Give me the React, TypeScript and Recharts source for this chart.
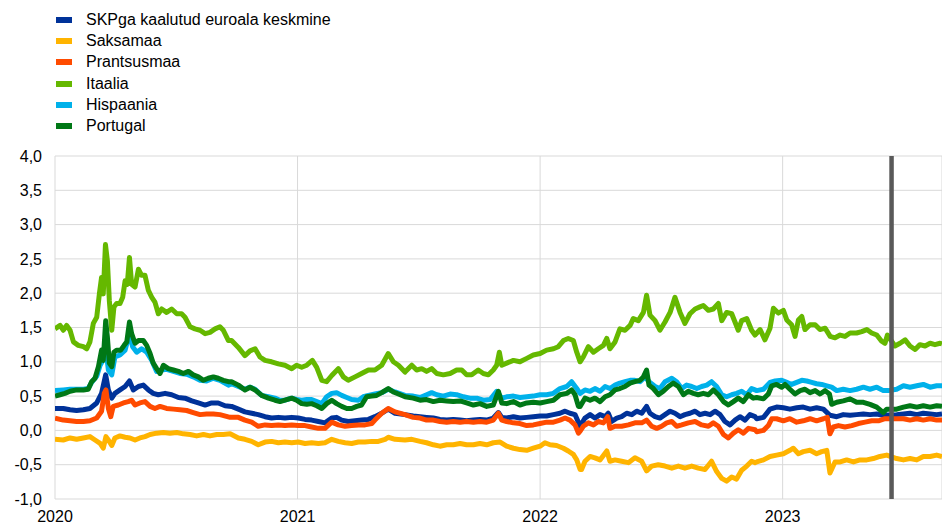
import { LineChart, Line, XAxis, YAxis, CartesianGrid, ReferenceLine } from 'recharts';

// legend labels, in drawing order
const seriesNames = [
  'SKPga kaalutud euroala keskmine',
  'Saksamaa',
  'Prantsusmaa',
  'Itaalia',
  'Hispaania',
  'Portugal',
];
const seriesColors = ['#003299', '#ffb400', '#ff4b00', '#65b800', '#00b1ea', '#007816'];

const yearTicks = [2020, 2021, 2022, 2023];
const valueTicks = [-1, -0.5, 0, 0.5, 1, 1.5, 2, 2.5, 3, 3.5, 4];
const firstDate = 2020;
const lastDate = 2023.657;
const cutoffDate = 2023.449;

// [date as fractional year, spread in percentage points]
const euroArea: [number, number][] = [
  [2020.0, 0.32], [2020.034, 0.32], [2020.062, 0.3], [2020.089, 0.29], [2020.117, 0.3], [2020.144, 0.32],
  [2020.172, 0.4], [2020.192, 0.54], [2020.209, 0.81], [2020.22, 0.59], [2020.234, 0.47], [2020.247, 0.54],
  [2020.268, 0.59], [2020.289, 0.64], [2020.307, 0.72], [2020.323, 0.59], [2020.344, 0.64], [2020.364, 0.66],
  [2020.385, 0.59], [2020.405, 0.54], [2020.426, 0.52], [2020.454, 0.54], [2020.481, 0.52], [2020.509, 0.48],
  [2020.536, 0.47], [2020.564, 0.43], [2020.591, 0.4], [2020.619, 0.37], [2020.646, 0.4], [2020.673, 0.4],
  [2020.701, 0.36], [2020.728, 0.35], [2020.756, 0.31], [2020.783, 0.27], [2020.811, 0.25], [2020.838, 0.23],
  [2020.866, 0.2], [2020.893, 0.18], [2020.921, 0.19], [2020.948, 0.18], [2020.976, 0.19], [2021.003, 0.18],
  [2021.031, 0.16], [2021.058, 0.15], [2021.086, 0.13], [2021.113, 0.11], [2021.141, 0.18], [2021.161, 0.19],
  [2021.182, 0.15], [2021.209, 0.13], [2021.237, 0.14], [2021.264, 0.15], [2021.292, 0.16], [2021.319, 0.2],
  [2021.347, 0.25], [2021.374, 0.31], [2021.402, 0.25], [2021.443, 0.23], [2021.477, 0.21], [2021.505, 0.2],
  [2021.532, 0.19], [2021.56, 0.18], [2021.587, 0.16], [2021.615, 0.15], [2021.642, 0.16], [2021.67, 0.15],
  [2021.697, 0.14], [2021.725, 0.15], [2021.752, 0.16], [2021.78, 0.15], [2021.807, 0.18], [2021.828, 0.26],
  [2021.842, 0.19], [2021.862, 0.18], [2021.89, 0.2], [2021.917, 0.18], [2021.945, 0.19], [2021.972, 0.2],
  [2022.0, 0.21], [2022.027, 0.21], [2022.055, 0.23], [2022.082, 0.25], [2022.103, 0.28], [2022.123, 0.25],
  [2022.144, 0.23], [2022.165, 0.06], [2022.185, 0.18], [2022.206, 0.23], [2022.226, 0.18], [2022.247, 0.23],
  [2022.268, 0.2], [2022.281, 0.25], [2022.295, 0.13], [2022.316, 0.18], [2022.336, 0.2], [2022.357, 0.25],
  [2022.378, 0.23], [2022.398, 0.28], [2022.419, 0.25], [2022.439, 0.35], [2022.453, 0.25], [2022.474, 0.2],
  [2022.494, 0.18], [2022.515, 0.23], [2022.536, 0.28], [2022.556, 0.25], [2022.577, 0.2], [2022.597, 0.23],
  [2022.618, 0.25], [2022.639, 0.28], [2022.659, 0.23], [2022.68, 0.25], [2022.701, 0.23], [2022.721, 0.28],
  [2022.742, 0.23], [2022.762, 0.13], [2022.783, 0.08], [2022.804, 0.15], [2022.824, 0.2], [2022.845, 0.15],
  [2022.865, 0.23], [2022.886, 0.2], [2022.893, 0.17], [2022.921, 0.19], [2022.948, 0.31], [2022.975, 0.34],
  [2023.003, 0.33], [2023.03, 0.31], [2023.058, 0.33], [2023.085, 0.34], [2023.113, 0.31], [2023.14, 0.33],
  [2023.168, 0.31], [2023.195, 0.22], [2023.223, 0.2], [2023.25, 0.23], [2023.278, 0.22], [2023.305, 0.23],
  [2023.333, 0.24], [2023.36, 0.23], [2023.388, 0.24], [2023.415, 0.22], [2023.47, 0.23], [2023.498, 0.24],
  [2023.525, 0.25], [2023.553, 0.23], [2023.58, 0.25], [2023.608, 0.24], [2023.635, 0.23], [2023.657, 0.24],
];

const germany: [number, number][] = [
  [2020.0, -0.13], [2020.034, -0.14], [2020.062, -0.11], [2020.089, -0.13], [2020.117, -0.11], [2020.144, -0.09],
  [2020.165, -0.14], [2020.186, -0.19], [2020.199, -0.26], [2020.21, -0.09], [2020.22, -0.14], [2020.234, -0.22],
  [2020.247, -0.11], [2020.268, -0.08], [2020.289, -0.1], [2020.309, -0.11], [2020.33, -0.14], [2020.35, -0.11],
  [2020.371, -0.09], [2020.392, -0.06], [2020.419, -0.04], [2020.447, -0.03], [2020.474, -0.04], [2020.502, -0.03],
  [2020.529, -0.05], [2020.557, -0.06], [2020.584, -0.08], [2020.612, -0.06], [2020.639, -0.08], [2020.667, -0.06],
  [2020.694, -0.06], [2020.722, -0.05], [2020.756, -0.11], [2020.783, -0.13], [2020.811, -0.16], [2020.838, -0.21],
  [2020.866, -0.17], [2020.893, -0.16], [2020.921, -0.18], [2020.948, -0.17], [2020.976, -0.18], [2021.003, -0.17],
  [2021.031, -0.19], [2021.058, -0.18], [2021.086, -0.19], [2021.113, -0.18], [2021.141, -0.13], [2021.168, -0.16],
  [2021.196, -0.18], [2021.223, -0.19], [2021.251, -0.17], [2021.278, -0.17], [2021.306, -0.16], [2021.333, -0.16],
  [2021.361, -0.13], [2021.374, -0.1], [2021.402, -0.13], [2021.443, -0.14], [2021.471, -0.13], [2021.505, -0.16],
  [2021.532, -0.18], [2021.56, -0.21], [2021.587, -0.23], [2021.615, -0.21], [2021.642, -0.21], [2021.67, -0.19],
  [2021.697, -0.21], [2021.725, -0.21], [2021.752, -0.19], [2021.78, -0.21], [2021.807, -0.18], [2021.835, -0.17],
  [2021.862, -0.23], [2021.89, -0.26], [2021.917, -0.28], [2021.945, -0.29], [2021.972, -0.26], [2022.0, -0.23],
  [2022.02, -0.18], [2022.041, -0.21], [2022.068, -0.22], [2022.096, -0.26], [2022.116, -0.3], [2022.137, -0.35],
  [2022.151, -0.43], [2022.165, -0.57], [2022.171, -0.57], [2022.185, -0.45], [2022.206, -0.38], [2022.226, -0.4],
  [2022.247, -0.43], [2022.275, -0.3], [2022.288, -0.45], [2022.309, -0.43], [2022.336, -0.45], [2022.364, -0.47],
  [2022.391, -0.4], [2022.419, -0.45], [2022.439, -0.59], [2022.46, -0.52], [2022.487, -0.5], [2022.515, -0.52],
  [2022.543, -0.55], [2022.57, -0.52], [2022.597, -0.55], [2022.625, -0.52], [2022.652, -0.55], [2022.68, -0.57],
  [2022.707, -0.45], [2022.728, -0.6], [2022.749, -0.7], [2022.769, -0.74], [2022.79, -0.68], [2022.81, -0.71],
  [2022.831, -0.58], [2022.852, -0.52], [2022.872, -0.45], [2022.886, -0.47], [2022.893, -0.46], [2022.921, -0.43],
  [2022.948, -0.38], [2022.975, -0.36], [2023.003, -0.34], [2023.03, -0.29], [2023.044, -0.26], [2023.065, -0.34],
  [2023.085, -0.31], [2023.113, -0.29], [2023.14, -0.34], [2023.161, -0.31], [2023.182, -0.29], [2023.195, -0.62],
  [2023.216, -0.46], [2023.237, -0.46], [2023.264, -0.43], [2023.292, -0.46], [2023.319, -0.43], [2023.347, -0.43],
  [2023.374, -0.41], [2023.401, -0.38], [2023.429, -0.36], [2023.47, -0.41], [2023.498, -0.43], [2023.525, -0.41],
  [2023.553, -0.43], [2023.58, -0.38], [2023.608, -0.38], [2023.635, -0.36], [2023.657, -0.38],
];

const france: [number, number][] = [
  [2020.0, 0.18], [2020.034, 0.15], [2020.062, 0.14], [2020.089, 0.13], [2020.117, 0.13], [2020.144, 0.14],
  [2020.172, 0.18], [2020.192, 0.28], [2020.203, 0.54], [2020.21, 0.59], [2020.22, 0.32], [2020.23, 0.2],
  [2020.24, 0.35], [2020.261, 0.37], [2020.282, 0.4], [2020.302, 0.42], [2020.316, 0.44], [2020.33, 0.37],
  [2020.35, 0.4], [2020.371, 0.42], [2020.392, 0.35], [2020.412, 0.32], [2020.433, 0.35], [2020.46, 0.32],
  [2020.488, 0.31], [2020.515, 0.3], [2020.543, 0.29], [2020.57, 0.26], [2020.598, 0.23], [2020.625, 0.24],
  [2020.653, 0.24], [2020.68, 0.23], [2020.722, 0.19], [2020.756, 0.19], [2020.783, 0.15], [2020.811, 0.12],
  [2020.838, 0.06], [2020.866, 0.08], [2020.893, 0.07], [2020.921, 0.08], [2020.948, 0.07], [2020.976, 0.08],
  [2021.003, 0.07], [2021.031, 0.07], [2021.058, 0.05], [2021.086, 0.03], [2021.113, 0.03], [2021.141, 0.12],
  [2021.168, 0.08], [2021.196, 0.06], [2021.223, 0.07], [2021.251, 0.08], [2021.278, 0.08], [2021.306, 0.1],
  [2021.319, 0.15], [2021.347, 0.25], [2021.374, 0.32], [2021.402, 0.27], [2021.443, 0.23], [2021.477, 0.19],
  [2021.505, 0.18], [2021.532, 0.15], [2021.56, 0.15], [2021.587, 0.13], [2021.615, 0.12], [2021.642, 0.13],
  [2021.67, 0.12], [2021.697, 0.13], [2021.725, 0.12], [2021.752, 0.13], [2021.78, 0.12], [2021.807, 0.15],
  [2021.828, 0.25], [2021.842, 0.15], [2021.862, 0.13], [2021.89, 0.11], [2021.917, 0.1], [2021.945, 0.07],
  [2021.972, 0.08], [2022.0, 0.1], [2022.027, 0.12], [2022.055, 0.12], [2022.082, 0.15], [2022.103, 0.18],
  [2022.123, 0.15], [2022.144, 0.08], [2022.158, -0.04], [2022.165, -0.01], [2022.178, 0.06], [2022.199, 0.11],
  [2022.22, 0.08], [2022.24, 0.13], [2022.261, 0.11], [2022.279, 0.2], [2022.288, 0.03], [2022.309, 0.06],
  [2022.336, 0.06], [2022.364, 0.08], [2022.391, 0.11], [2022.419, 0.11], [2022.439, 0.15], [2022.46, 0.06],
  [2022.481, 0.03], [2022.501, 0.06], [2022.522, 0.11], [2022.543, 0.13], [2022.563, 0.06], [2022.584, 0.08],
  [2022.611, 0.11], [2022.639, 0.13], [2022.666, 0.08], [2022.694, 0.06], [2022.714, 0.11], [2022.735, 0.06],
  [2022.756, -0.06], [2022.776, -0.11], [2022.797, -0.04], [2022.817, 0.01], [2022.838, -0.04], [2022.859, 0.03],
  [2022.886, 0.01], [2022.893, -0.02], [2022.921, 0.0], [2022.941, 0.07], [2022.955, 0.17], [2022.975, 0.17],
  [2023.003, 0.14], [2023.03, 0.17], [2023.058, 0.12], [2023.085, 0.14], [2023.113, 0.17], [2023.14, 0.14],
  [2023.168, 0.17], [2023.184, 0.19], [2023.195, -0.05], [2023.209, 0.05], [2023.23, 0.07], [2023.257, 0.05],
  [2023.285, 0.07], [2023.312, 0.1], [2023.34, 0.12], [2023.367, 0.14], [2023.395, 0.14], [2023.422, 0.17],
  [2023.47, 0.17], [2023.498, 0.17], [2023.525, 0.15], [2023.553, 0.17], [2023.58, 0.15], [2023.608, 0.17],
  [2023.635, 0.15], [2023.657, 0.15],
];

const italy: [number, number][] = [
  [2020.0, 1.48], [2020.021, 1.53], [2020.034, 1.46], [2020.048, 1.53], [2020.062, 1.46], [2020.076, 1.29],
  [2020.096, 1.24], [2020.117, 1.22], [2020.131, 1.19], [2020.144, 1.29], [2020.158, 1.56], [2020.172, 1.65],
  [2020.183, 1.99], [2020.192, 2.23], [2020.199, 1.99], [2020.208, 2.71], [2020.216, 2.47], [2020.224, 1.89],
  [2020.234, 1.46], [2020.243, 1.8], [2020.254, 1.85], [2020.268, 1.85], [2020.279, 1.94], [2020.289, 2.18],
  [2020.298, 2.13], [2020.307, 2.52], [2020.316, 2.13], [2020.33, 2.09], [2020.344, 2.35], [2020.357, 2.26],
  [2020.371, 2.26], [2020.385, 2.04], [2020.399, 1.94], [2020.412, 1.87], [2020.426, 1.7], [2020.44, 1.77],
  [2020.46, 1.72], [2020.481, 1.77], [2020.502, 1.7], [2020.522, 1.7], [2020.536, 1.65], [2020.557, 1.51],
  [2020.577, 1.48], [2020.598, 1.46], [2020.619, 1.41], [2020.639, 1.43], [2020.66, 1.48], [2020.68, 1.51],
  [2020.694, 1.46], [2020.715, 1.31], [2020.728, 1.31], [2020.756, 1.21], [2020.783, 1.09], [2020.804, 1.16],
  [2020.825, 1.19], [2020.845, 1.07], [2020.866, 1.02], [2020.893, 1.0], [2020.921, 0.97], [2020.948, 0.95],
  [2020.976, 0.9], [2020.996, 0.95], [2021.017, 0.92], [2021.038, 0.95], [2021.061, 1.02], [2021.079, 0.92],
  [2021.1, 0.73], [2021.12, 0.71], [2021.141, 0.8], [2021.168, 0.9], [2021.189, 0.78], [2021.209, 0.73],
  [2021.237, 0.78], [2021.264, 0.83], [2021.292, 0.88], [2021.319, 0.88], [2021.347, 0.95], [2021.374, 1.12],
  [2021.395, 1.0], [2021.416, 0.95], [2021.443, 0.85], [2021.471, 0.95], [2021.491, 0.88], [2021.512, 0.9],
  [2021.532, 0.86], [2021.553, 0.9], [2021.574, 0.83], [2021.601, 0.81], [2021.629, 0.83], [2021.656, 0.88],
  [2021.677, 0.88], [2021.697, 0.81], [2021.718, 0.81], [2021.745, 0.88], [2021.766, 0.83], [2021.787, 0.81],
  [2021.807, 0.88], [2021.821, 0.95], [2021.832, 1.14], [2021.842, 0.95], [2021.862, 0.98], [2021.89, 1.02],
  [2021.917, 1.0], [2021.945, 1.05], [2021.972, 1.1], [2022.0, 1.12], [2022.027, 1.17], [2022.055, 1.19],
  [2022.075, 1.22], [2022.096, 1.31], [2022.116, 1.34], [2022.137, 1.31], [2022.151, 1.14], [2022.165, 1.0],
  [2022.178, 1.07], [2022.199, 1.22], [2022.22, 1.14], [2022.24, 1.19], [2022.261, 1.24], [2022.275, 1.34],
  [2022.288, 1.19], [2022.309, 1.29], [2022.329, 1.48], [2022.35, 1.46], [2022.371, 1.53], [2022.384, 1.63],
  [2022.405, 1.6], [2022.426, 1.72], [2022.439, 1.97], [2022.453, 1.68], [2022.474, 1.6], [2022.494, 1.46],
  [2022.515, 1.58], [2022.536, 1.72], [2022.556, 1.94], [2022.577, 1.72], [2022.597, 1.56], [2022.618, 1.7],
  [2022.639, 1.77], [2022.659, 1.8], [2022.673, 1.82], [2022.694, 1.75], [2022.714, 1.77], [2022.735, 1.85],
  [2022.749, 1.6], [2022.769, 1.72], [2022.79, 1.7], [2022.817, 1.46], [2022.831, 1.6], [2022.852, 1.63],
  [2022.872, 1.46], [2022.886, 1.39], [2022.907, 1.47], [2022.927, 1.32], [2022.948, 1.49], [2022.962, 1.78],
  [2022.982, 1.71], [2023.003, 1.75], [2023.017, 1.61], [2023.037, 1.54], [2023.051, 1.37], [2023.065, 1.61],
  [2023.079, 1.66], [2023.092, 1.47], [2023.113, 1.54], [2023.134, 1.54], [2023.154, 1.47], [2023.175, 1.49],
  [2023.196, 1.37], [2023.216, 1.35], [2023.237, 1.39], [2023.257, 1.37], [2023.278, 1.42], [2023.305, 1.42],
  [2023.326, 1.44], [2023.347, 1.47], [2023.367, 1.42], [2023.388, 1.39], [2023.408, 1.3], [2023.422, 1.27],
  [2023.432, 1.39], [2023.463, 1.23], [2023.484, 1.27], [2023.505, 1.32], [2023.525, 1.23], [2023.546, 1.18],
  [2023.566, 1.25], [2023.587, 1.23], [2023.608, 1.27], [2023.628, 1.25], [2023.649, 1.27], [2023.657, 1.26],
];

const spain: [number, number][] = [
  [2020.0, 0.58], [2020.034, 0.59], [2020.062, 0.6], [2020.089, 0.6], [2020.117, 0.6], [2020.137, 0.61],
  [2020.151, 0.7], [2020.172, 0.79], [2020.186, 0.95], [2020.197, 1.02], [2020.209, 1.22], [2020.22, 0.88],
  [2020.234, 0.81], [2020.247, 1.07], [2020.268, 1.1], [2020.289, 1.17], [2020.307, 1.41], [2020.32, 1.22],
  [2020.337, 1.14], [2020.357, 1.19], [2020.378, 1.14], [2020.399, 1.02], [2020.419, 0.86], [2020.44, 0.88],
  [2020.46, 0.89], [2020.488, 0.86], [2020.515, 0.83], [2020.543, 0.82], [2020.57, 0.78], [2020.598, 0.73],
  [2020.625, 0.72], [2020.653, 0.76], [2020.68, 0.73], [2020.715, 0.66], [2020.728, 0.68], [2020.756, 0.64],
  [2020.783, 0.6], [2020.804, 0.63], [2020.825, 0.6], [2020.852, 0.51], [2020.88, 0.49], [2020.907, 0.47],
  [2020.928, 0.44], [2020.948, 0.44], [2020.976, 0.47], [2020.996, 0.45], [2021.017, 0.44], [2021.038, 0.45],
  [2021.058, 0.45], [2021.079, 0.42], [2021.1, 0.39], [2021.12, 0.49], [2021.141, 0.54], [2021.161, 0.55],
  [2021.182, 0.51], [2021.203, 0.48], [2021.223, 0.45], [2021.251, 0.44], [2021.271, 0.49], [2021.292, 0.51],
  [2021.319, 0.53], [2021.347, 0.55], [2021.374, 0.6], [2021.402, 0.56], [2021.443, 0.51], [2021.477, 0.5],
  [2021.505, 0.48], [2021.532, 0.52], [2021.553, 0.55], [2021.574, 0.52], [2021.601, 0.5], [2021.629, 0.53],
  [2021.656, 0.52], [2021.684, 0.49], [2021.711, 0.47], [2021.739, 0.47], [2021.766, 0.44], [2021.794, 0.45],
  [2021.821, 0.57], [2021.842, 0.47], [2021.862, 0.49], [2021.89, 0.5], [2021.917, 0.48], [2021.945, 0.49],
  [2021.972, 0.5], [2022.0, 0.52], [2022.027, 0.52], [2022.055, 0.54], [2022.082, 0.61], [2022.11, 0.64],
  [2022.13, 0.71], [2022.151, 0.61], [2022.165, 0.54], [2022.185, 0.59], [2022.206, 0.57], [2022.226, 0.61],
  [2022.247, 0.57], [2022.268, 0.64], [2022.288, 0.61], [2022.309, 0.66], [2022.329, 0.69], [2022.35, 0.71],
  [2022.371, 0.73], [2022.391, 0.73], [2022.412, 0.71], [2022.433, 0.78], [2022.449, 0.71], [2022.474, 0.64],
  [2022.494, 0.61], [2022.515, 0.71], [2022.543, 0.76], [2022.563, 0.71], [2022.584, 0.61], [2022.604, 0.66],
  [2022.625, 0.64], [2022.646, 0.61], [2022.666, 0.64], [2022.687, 0.66], [2022.707, 0.71], [2022.728, 0.64],
  [2022.749, 0.52], [2022.769, 0.49], [2022.79, 0.52], [2022.81, 0.54], [2022.831, 0.57], [2022.852, 0.52],
  [2022.872, 0.61], [2022.886, 0.59], [2022.893, 0.58], [2022.921, 0.6], [2022.948, 0.7], [2022.969, 0.72],
  [2022.996, 0.73], [2023.017, 0.7], [2023.037, 0.67], [2023.058, 0.7], [2023.079, 0.73], [2023.099, 0.72],
  [2023.12, 0.7], [2023.14, 0.68], [2023.161, 0.67], [2023.182, 0.65], [2023.202, 0.63], [2023.223, 0.58],
  [2023.25, 0.6], [2023.278, 0.58], [2023.305, 0.6], [2023.333, 0.63], [2023.36, 0.6], [2023.388, 0.63],
  [2023.415, 0.58], [2023.436, 0.58], [2023.47, 0.6], [2023.498, 0.65], [2023.525, 0.63], [2023.553, 0.65],
  [2023.58, 0.67], [2023.608, 0.63], [2023.635, 0.65], [2023.657, 0.65],
];

const portugal: [number, number][] = [
  [2020.0, 0.5], [2020.021, 0.52], [2020.041, 0.54], [2020.062, 0.57], [2020.089, 0.59], [2020.117, 0.59],
  [2020.137, 0.6], [2020.151, 0.71], [2020.165, 0.76], [2020.179, 0.93], [2020.192, 1.17], [2020.199, 1.02],
  [2020.209, 1.6], [2020.216, 1.36], [2020.224, 0.98], [2020.234, 0.93], [2020.243, 1.14], [2020.254, 1.17],
  [2020.271, 1.17], [2020.285, 1.24], [2020.296, 1.29], [2020.307, 1.58], [2020.316, 1.41], [2020.33, 1.27],
  [2020.344, 1.31], [2020.364, 1.31], [2020.378, 1.24], [2020.392, 1.12], [2020.405, 0.98], [2020.419, 0.9],
  [2020.433, 0.83], [2020.447, 0.95], [2020.467, 0.9], [2020.488, 0.88], [2020.509, 0.86], [2020.529, 0.83],
  [2020.55, 0.86], [2020.57, 0.81], [2020.591, 0.78], [2020.612, 0.73], [2020.632, 0.76], [2020.653, 0.78],
  [2020.673, 0.76], [2020.694, 0.73], [2020.715, 0.71], [2020.728, 0.71], [2020.756, 0.66], [2020.783, 0.59],
  [2020.804, 0.63], [2020.825, 0.59], [2020.852, 0.51], [2020.88, 0.47], [2020.907, 0.44], [2020.928, 0.42],
  [2020.948, 0.44], [2020.976, 0.47], [2020.996, 0.44], [2021.017, 0.39], [2021.038, 0.38], [2021.058, 0.39],
  [2021.079, 0.36], [2021.1, 0.32], [2021.12, 0.39], [2021.141, 0.44], [2021.161, 0.39], [2021.182, 0.35],
  [2021.203, 0.32], [2021.223, 0.32], [2021.244, 0.35], [2021.264, 0.37], [2021.285, 0.49], [2021.306, 0.5],
  [2021.326, 0.51], [2021.347, 0.55], [2021.374, 0.61], [2021.395, 0.56], [2021.416, 0.53], [2021.443, 0.49],
  [2021.477, 0.47], [2021.505, 0.44], [2021.532, 0.45], [2021.56, 0.42], [2021.587, 0.44], [2021.615, 0.43],
  [2021.642, 0.42], [2021.67, 0.43], [2021.697, 0.4], [2021.725, 0.37], [2021.752, 0.39], [2021.78, 0.35],
  [2021.807, 0.37], [2021.828, 0.57], [2021.842, 0.4], [2021.862, 0.39], [2021.89, 0.42], [2021.917, 0.37],
  [2021.945, 0.4], [2021.972, 0.41], [2022.0, 0.4], [2022.027, 0.42], [2022.055, 0.44], [2022.082, 0.52],
  [2022.11, 0.54], [2022.13, 0.59], [2022.144, 0.52], [2022.158, 0.35], [2022.165, 0.35], [2022.185, 0.47],
  [2022.206, 0.44], [2022.226, 0.47], [2022.247, 0.42], [2022.268, 0.49], [2022.288, 0.52], [2022.309, 0.59],
  [2022.329, 0.61], [2022.35, 0.64], [2022.371, 0.69], [2022.391, 0.71], [2022.412, 0.73], [2022.426, 0.78],
  [2022.439, 0.88], [2022.449, 0.66], [2022.467, 0.61], [2022.488, 0.52], [2022.508, 0.57], [2022.529, 0.64],
  [2022.549, 0.69], [2022.57, 0.64], [2022.591, 0.52], [2022.611, 0.57], [2022.632, 0.54], [2022.652, 0.52],
  [2022.673, 0.54], [2022.694, 0.52], [2022.714, 0.59], [2022.735, 0.52], [2022.756, 0.42], [2022.776, 0.37],
  [2022.797, 0.42], [2022.817, 0.47], [2022.838, 0.42], [2022.859, 0.52], [2022.879, 0.47], [2022.893, 0.48],
  [2022.921, 0.46], [2022.941, 0.53], [2022.955, 0.65], [2022.975, 0.67], [2022.996, 0.63], [2023.01, 0.67],
  [2023.03, 0.6], [2023.051, 0.53], [2023.072, 0.58], [2023.092, 0.6], [2023.113, 0.55], [2023.134, 0.58],
  [2023.154, 0.53], [2023.175, 0.58], [2023.193, 0.53], [2023.202, 0.38], [2023.223, 0.41], [2023.25, 0.43],
  [2023.278, 0.46], [2023.305, 0.41], [2023.333, 0.41], [2023.36, 0.38], [2023.388, 0.34], [2023.415, 0.26],
  [2023.429, 0.31], [2023.47, 0.31], [2023.498, 0.34], [2023.525, 0.36], [2023.553, 0.34], [2023.58, 0.36],
  [2023.608, 0.34], [2023.635, 0.36], [2023.657, 0.35],
];

const seriesRows = [euroArea, germany, france, italy, spain, portugal];

const font = "'Liberation Sans', Arial, sans-serif";
const formatValue = (v: number) => v.toFixed(1).replace('.', ',');

export default function App() {
  return (
    <div style={{ position: 'relative', width: 942, height: 524, fontFamily: font, color: '#000' }}>
      <style>{'body { margin: 0; }'}</style>
      <div style={{ position: 'absolute', left: 56, top: 9.4, zIndex: 1 }}>
        {seriesNames.map((name, i) => (
          <div key={name} style={{ display: 'flex', alignItems: 'center', height: 21.2, fontSize: 16 }}>
            <span style={{ display: 'block', flexShrink: 0, width: 16, height: 6, background: seriesColors[i], marginRight: 14 }} />
            <span>{name}</span>
          </div>
        ))}
      </div>
      <LineChart width={942} height={524} margin={{ top: 156, right: 0, bottom: 0, left: 0 }}>
        <CartesianGrid stroke='#d9d9d9' />
        <XAxis
          type='number'
          dataKey='t'
          domain={[firstDate, lastDate]}
          ticks={yearTicks}
          allowDataOverflow
          height={25}
          axisLine={false}
          tickLine={false}
          tickSize={0}
          tickMargin={12}
          tick={{ fill: '#000', fontSize: 16, fontFamily: font }}
        />
        <YAxis
          type='number'
          domain={[-1, 4]}
          ticks={valueTicks}
          allowDataOverflow
          width={55}
          axisLine={false}
          tickLine={false}
          tickSize={0}
          tickMargin={13}
          tickFormatter={formatValue}
          tick={{ fill: '#000', fontSize: 16, fontFamily: font }}
        />
        {seriesRows.map((rows, i) => (
          <Line
            key={seriesNames[i]}
            data={rows.map(([t, v]) => ({ t, v }))}
            dataKey='v'
            type='linear'
            stroke={seriesColors[i]}
            strokeWidth={5}
            strokeLinejoin='round'
            dot={false}
            activeDot={false}
            isAnimationActive={false}
          />
        ))}
        <ReferenceLine x={cutoffDate} stroke='#595959' strokeWidth={4.5} />
      </LineChart>
    </div>
  );
}
